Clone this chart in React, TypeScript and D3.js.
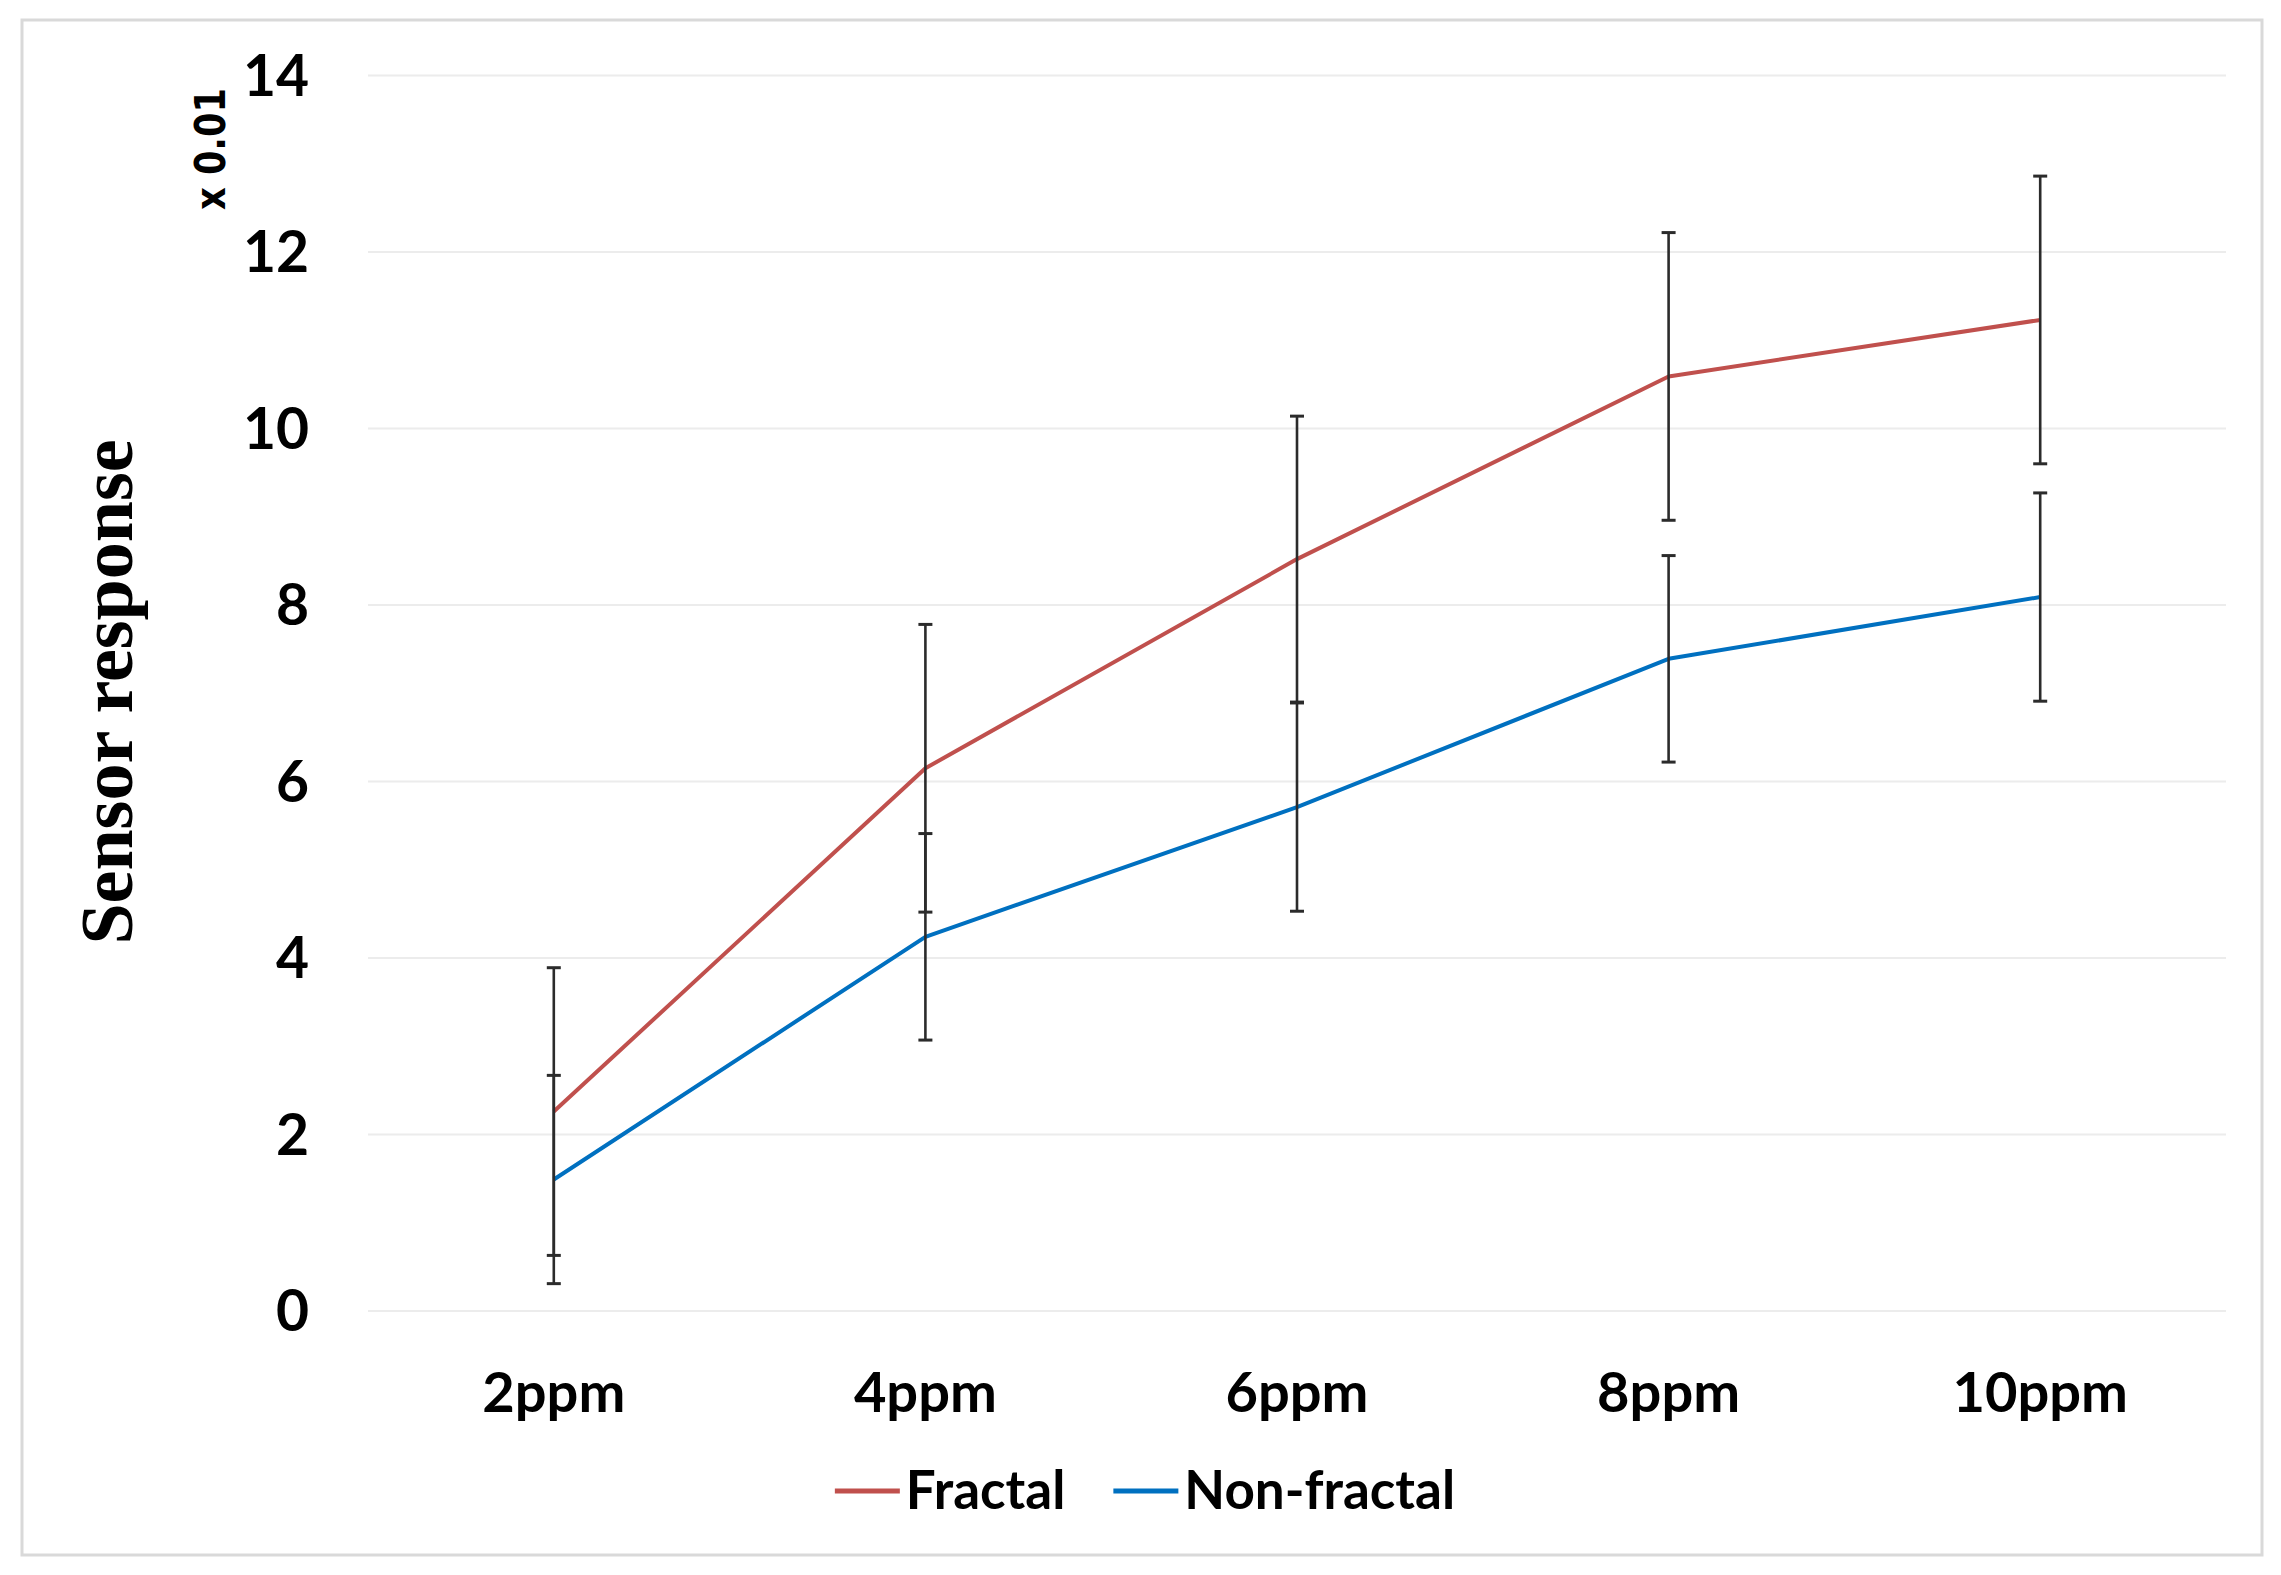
import React, { useEffect, useRef } from "react";
import * as d3 from "d3";

const categories = ["2ppm", "4ppm", "6ppm", "8ppm", "10ppm"];
const fractalValues = [2.26, 6.15, 8.52, 10.59, 11.23];
const fractalErrors = [1.63, 1.63, 1.62, 1.63, 1.63];
const nonFractalValues = [1.49, 4.24, 5.71, 7.39, 8.09];
const nonFractalErrors = [1.18, 1.17, 1.18, 1.17, 1.18];
const yTicks = [0, 2, 4, 6, 8, 10, 12, 14];
const seriesNames = ["Fractal", "Non-fractal"];
const seriesColors = ["#C0504D", "#0070C0"];

const W = 2281;
const H = 1575;

export default function App() {
  const ref = useRef<SVGSVGElement | null>(null);

  useEffect(() => {
    const svg = d3.select(ref.current);
    svg.selectAll("*").remove();

    const left = 368, right = 2226, top = 75.5, bottom = 1311;
    const x = d3.scalePoint<string>().domain(categories).range([left, right]).padding(0.5);
    const y = d3.scaleLinear().domain([0, 14]).range([bottom, top]);

    svg.append("rect").attr("x", 0).attr("y", 0).attr("width", W).attr("height", H).attr("fill", "#fff");
    // frame
    svg.append("rect")
      .attr("x", 22).attr("y", 20).attr("width", 2240).attr("height", 1535)
      .attr("fill", "#fff").attr("stroke", "#d9d9d9").attr("stroke-width", 3);

    // gridlines
    svg.append("g").selectAll("line").data(yTicks).join("line")
      .attr("x1", left).attr("x2", right)
      .attr("y1", d => y(d)).attr("y2", d => y(d))
      .attr("stroke", "#ececec").attr("stroke-width", 2);

    // y tick labels
    svg.append("g").selectAll("text").data(yTicks).join("text")
      .attr("x", 309).attr("y", d => y(d) + 20)
      .attr("text-anchor", "end")
      .attr("font-family", "Lato, 'Liberation Sans', sans-serif")
      .attr("font-weight", "bold").attr("font-size", 57)
      .attr("fill", "#000")
      .text(d => String(d));

    // x tick labels
    svg.append("g").selectAll("text").data(categories).join("text")
      .attr("x", d => x(d) as number).attr("y", 1412)
      .attr("text-anchor", "middle")
      .attr("font-family", "Lato, 'Liberation Sans', sans-serif")
      .attr("font-weight", "bold").attr("font-size", 56)
      .attr("fill", "#000")
      .text(d => d);

    // y title
    svg.append("text")
      .attr("transform", "translate(132,692) rotate(-90)")
      .attr("text-anchor", "middle")
      .attr("font-family", "'Liberation Serif', 'Times New Roman', serif")
      .attr("font-weight", "bold").attr("font-size", 74)
      .attr("fill", "#000")
      .text("Sensor response");

    // multiplier
    svg.append("text")
      .attr("transform", "translate(225,149) rotate(-90)")
      .attr("text-anchor", "middle")
      .attr("font-family", "'DejaVu Sans', sans-serif")
      .attr("font-weight", "bold").attr("font-size", 42)
      .attr("textLength", 122).attr("lengthAdjust", "spacingAndGlyphs")
      .attr("fill", "#000")
      .text("x 0.01");

    const series = [
      { name: seriesNames[0], values: fractalValues, errors: fractalErrors, color: seriesColors[0] },
      { name: seriesNames[1], values: nonFractalValues, errors: nonFractalErrors, color: seriesColors[1] },
    ];

    const line = d3.line<number>()
      .x((_, i) => x(categories[i]) as number)
      .y(d => y(d));

    series.forEach(s => {
      svg.append("path")
        .attr("d", line(s.values) as string)
        .attr("fill", "none")
        .attr("stroke", s.color)
        .attr("stroke-width", 4)
        .attr("stroke-linejoin", "round");
    });

    series.forEach(s => {
      const g = svg.append("g").attr("stroke", "#2b2b2b").attr("stroke-width", 2.6);
      s.values.forEach((v, i) => {
        const cx = x(categories[i]) as number;
        const hi = y(v + s.errors[i]);
        const lo = y(v - s.errors[i]);
        g.append("line").attr("x1", cx).attr("x2", cx).attr("y1", hi).attr("y2", lo);
        g.append("line").attr("x1", cx - 7).attr("x2", cx + 7).attr("y1", hi).attr("y2", hi).attr("stroke-width", 3);
        g.append("line").attr("x1", cx - 7).attr("x2", cx + 7).attr("y1", lo).attr("y2", lo).attr("stroke-width", 3);
      });
    });

    // legend
    const legend = svg.append("g");
    const swatch = 65, gapText = 6, gapItem = 48, legY = 1491;
    const items = series.map(s => {
      const g = legend.append("g");
      g.append("line").attr("x1", 0).attr("x2", swatch).attr("y1", 0).attr("y2", 0)
        .attr("stroke", s.color).attr("stroke-width", 5);
      const t = g.append("text").attr("x", swatch + gapText).attr("y", 18)
        .attr("font-family", "Lato, 'Liberation Sans', sans-serif")
        .attr("font-weight", "bold").attr("font-size", 53)
        .attr("fill", "#000").text(s.name);
      const w = swatch + gapText + (t.node() as SVGTextElement).getComputedTextLength();
      return { g, w };
    });
    const total = d3.sum(items, d => d.w) + gapItem * (items.length - 1);
    let cx = 1145 - total / 2;
    items.forEach(it => {
      it.g.attr("transform", `translate(${cx},${legY})`);
      cx += it.w + gapItem;
    });
  }, []);

  return (
    <svg ref={ref} width={W} height={H} style={{ position: "absolute", left: 0, top: 0, display: "block" }} />
  );
}
